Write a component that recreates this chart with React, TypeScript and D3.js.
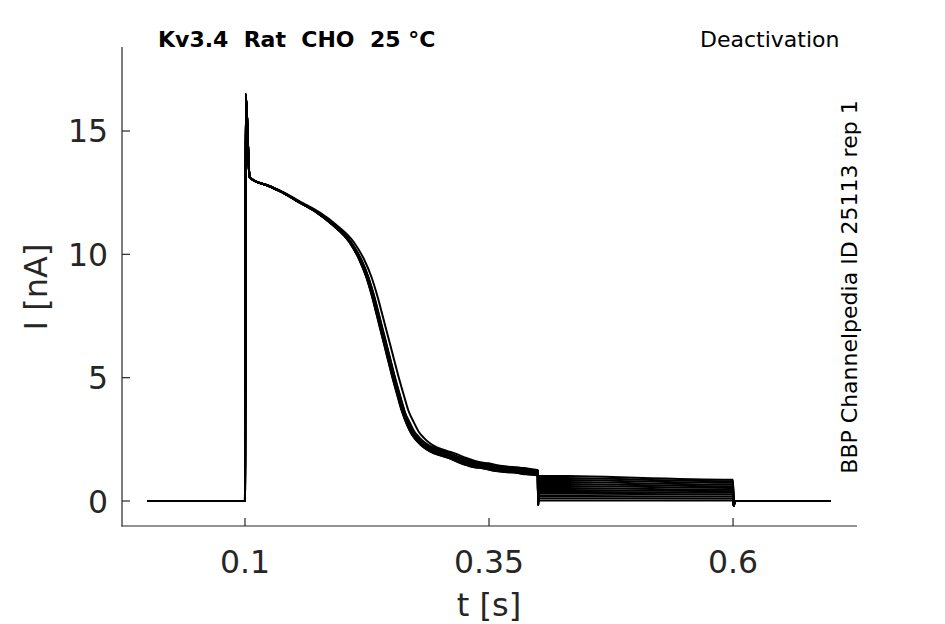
import React, { useEffect, useRef } from "react";
import * as d3 from "d3";

// shared pulse response (t in s, I in nA)
const pulseT = [0, 0.0999, 0.1, 0.1002, 0.1008, 0.1045, 0.1051, 0.1256, 0.1389, 0.1564, 0.1738, 0.1902, 0.2076, 0.2178, 0.225, 0.2311, 0.2363, 0.2414, 0.2465, 0.2516, 0.2568, 0.2619, 0.267, 0.2721, 0.2773, 0.2824, 0.2895, 0.2998, 0.3085, 0.3172, 0.3336, 0.341, 0.351, 0.3684, 0.3766, 0.3848, 0.3995];
const pulseI = [0, 0, 0, 2.8, 16.5, 13.2, 13.1, 12.75, 12.5, 12.1, 11.7, 11.2, 10.5, 9.8, 9.1, 8.3, 7.5, 6.7, 5.9, 5.1, 4.35, 3.65, 3.1, 2.7, 2.45, 2.26, 2.08, 1.93, 1.82, 1.67, 1.46, 1.43, 1.34, 1.26, 1.24, 1.18, 1.14];

// per-sweep tail current during the 0.4-0.6 s step
const tailStart = [1.02, 0.94, 0.86, 0.78, 0.7, 0.62, 0.54, 0.46, 0.38, 0.3, 0.21, 0.12, 0.03];
const tailEnd = [0.86, 0.8, 0.74, 0.67, 0.6, 0.53, 0.46, 0.4, 0.33, 0.26, 0.18, 0.1, 0.02];
// spread of the decay between sweeps: timing stretch and late level offset
const sweepStretch = [0, 0.004, -0.004, 0.008, 0.002, -0.006, 0.035, 0.005, -0.002, 0.01, -0.008, 0.003, 0.001];
const sweepLate = [0.08, -0.05, 0.03, 0.12, -0.08, 0.0, 0.1, -0.03, 0.05, -0.1, 0.02, -0.06, 0.06];

const xTicks = [0.1, 0.35, 0.6];
const yTicks = [0, 5, 10, 15];

const W = 945;
const H = 624;

export default function App() {
  const svgRef = useRef<SVGSVGElement | null>(null);

  useEffect(() => {
    if (!svgRef.current) return;
    const svg = d3.select(svgRef.current);
    svg.selectAll("*").remove();

    const x = d3.scaleLinear().domain([-0.026, 0.727]).range([122, 857]);
    const y = d3.scaleLinear().domain([-1.013, 18.405]).range([526, 47]);
    const axisColor = "#262626";
    const font = "DejaVu Sans, sans-serif";

    // traces
    const line = d3
      .line<[number, number]>()
      .x((d) => x(d[0]))
      .y((d) => y(d[1]))
      .curve(d3.curveMonotoneX);

    const sweeps = tailStart.map((ts, i) => {
      const k = sweepStretch[i];
      const off = sweepLate[i];
      const pts: [number, number][] = pulseT.map((t, j) => {
        const tt = t > 0.105 && t < 0.39 ? 0.1 + (t - 0.1) * (1 + k) : t;
        const v = t >= 0.265 ? pulseI[j] + off : pulseI[j];
        return [tt, v];
      });
      pts.push([0.4, 1.12 + off]);
      pts.push([0.4003, -0.15]);
      pts.push([0.4008, ts]);
      pts.push([0.5995, tailEnd[i]]);
      pts.push([0.6, tailEnd[i]]);
      pts.push([0.6006, -0.2]);
      pts.push([0.602, 0]);
      pts.push([0.7, 0]);
      return pts;
    });

    svg
      .append("g")
      .selectAll("path")
      .data(sweeps)
      .join("path")
      .attr("d", (d) => line(d))
      .attr("fill", "none")
      .attr("stroke", "#000")
      .attr("stroke-width", 2)
      .attr("stroke-linejoin", "round");

    // axes
    const ax = svg.append("g").attr("stroke", axisColor).attr("stroke-width", 1.2);
    ax.append("line").attr("x1", 122).attr("x2", 122).attr("y1", 47).attr("y2", 526.5);
    ax.append("line").attr("x1", 121.5).attr("x2", 857).attr("y1", 526).attr("y2", 526);
    ax.selectAll(".xt")
      .data(xTicks)
      .join("line")
      .attr("x1", (d) => x(d))
      .attr("x2", (d) => x(d))
      .attr("y1", 526)
      .attr("y2", 518);
    ax.selectAll(".yt")
      .data(yTicks)
      .join("line")
      .attr("x1", 122)
      .attr("x2", 130)
      .attr("y1", (d) => y(d))
      .attr("y2", (d) => y(d));

    svg
      .append("g")
      .selectAll("text")
      .data(xTicks)
      .join("text")
      .attr("x", (d) => x(d))
      .attr("y", 573)
      .attr("text-anchor", "middle")
      .attr("font-family", font)
      .attr("font-size", 31.5)
      .attr("fill", axisColor)
      .text((d) => String(d));

    svg
      .append("g")
      .selectAll("text")
      .data(yTicks)
      .join("text")
      .attr("x", 108)
      .attr("y", (d) => y(d) + 11.5)
      .attr("text-anchor", "end")
      .attr("font-family", font)
      .attr("font-size", 31.5)
      .attr("fill", axisColor)
      .text((d) => String(d));

    svg
      .append("text")
      .attr("x", 489)
      .attr("y", 616)
      .attr("text-anchor", "middle")
      .attr("font-family", font)
      .attr("font-size", 32)
      .attr("fill", axisColor)
      .text("t [s]");

    svg
      .append("text")
      .attr("transform", "translate(47,287) rotate(-90)")
      .attr("text-anchor", "middle")
      .attr("font-family", font)
      .attr("font-size", 32)
      .attr("fill", axisColor)
      .text("I [nA]");

    // annotations
    svg
      .append("text")
      .attr("x", 158)
      .attr("y", 47)
      .attr("font-family", font)
      .attr("font-size", 22)
      .attr("font-weight", "bold")
      .attr("fill", "#000")
      .attr("xml:space", "preserve")
      .style("white-space", "pre")
      .text("Kv3.4  Rat  CHO  25 °C");

    svg
      .append("text")
      .attr("x", 700)
      .attr("y", 47)
      .attr("font-family", font)
      .attr("font-size", 22)
      .attr("fill", "#000")
      .text("Deactivation");

    svg
      .append("text")
      .attr("transform", "translate(857,287) rotate(-90)")
      .attr("text-anchor", "middle")
      .attr("font-family", font)
      .attr("font-size", 22)
      .attr("fill", "#000")
      .text("BBP Channelpedia ID 25113 rep 1");
  }, []);

  return (
    <svg
      ref={svgRef}
      width={W}
      height={H}
      style={{ position: "absolute", left: 0, top: 0, background: "#fff" }}
    />
  );
}
